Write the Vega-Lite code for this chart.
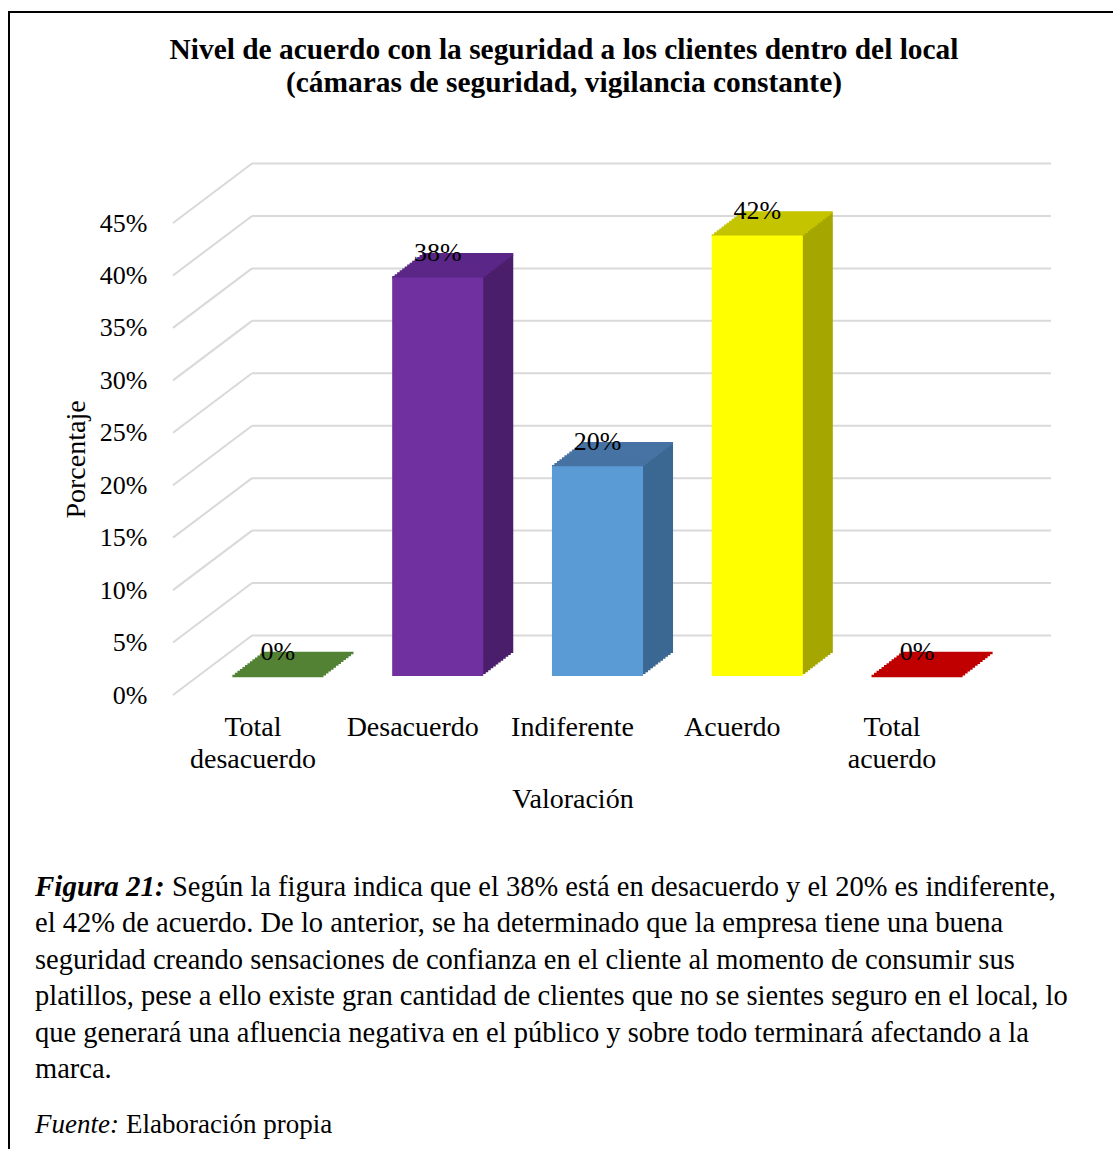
{
 "$schema": "https://vega.github.io/schema/vega-lite/v6.json",
 "width": 1106,
 "height": 1139,
 "autosize": "none",
 "padding": {"left": 9, "top": 12, "right": -2, "bottom": -2},
 "background": "white",
 "config": {"view": {"stroke": "black", "strokeWidth": 2}, "font": "Liberation Serif"},
 "title": {
  "text": ["Nivel de acuerdo con la seguridad a los clientes dentro del local", "(cámaras de seguridad, vigilancia constante)"],
  "fontSize": 29.4, "fontWeight": "bold", "color": "black", "lineHeight": 33,
  "anchor": "middle", "frame": "group", "baseline": "top", "offset": -86, "dx": 2
 },
 "datasets": {
  "bars": [
   {"cat": "Total desacuerdo", "v": 0},
   {"cat": "Desacuerdo", "v": 0.38},
   {"cat": "Indiferente", "v": 0.20},
   {"cat": "Acuerdo", "v": 0.42},
   {"cat": "Total acuerdo", "v": 0}
  ],
  "grid": [{"t": 0}, {"t": 0.05}, {"t": 0.10}, {"t": 0.15}, {"t": 0.20}, {"t": 0.25}, {"t": 0.30}, {"t": 0.35}, {"t": 0.40}, {"t": 0.45}],
  "caption": [
   {"row": 1, "kind": "fig", "text": "Figura 21:"},
   {"row": 1, "kind": "body1", "text": "Según la figura indica que el 38% está en desacuerdo y el 20% es indiferente,"},
   {"row": 2, "kind": "body", "text": "el 42% de acuerdo. De lo anterior, se ha determinado que la empresa tiene una buena"},
   {"row": 3, "kind": "body", "text": "seguridad creando sensaciones de confianza en el cliente al momento de consumir sus"},
   {"row": 4, "kind": "body", "text": "platillos, pese a ello existe gran cantidad de clientes que no se sientes seguro en el local, lo"},
   {"row": 5, "kind": "body", "text": "que generará una afluencia negativa en el público y sobre todo terminará afectando a la"},
   {"row": 6, "kind": "body", "text": "marca."},
   {"row": 7, "kind": "src", "text": "Fuente:"},
   {"row": 7, "kind": "src2", "text": "Elaboración propia"}
  ]
 },
 "layer": [
  {
   "data": {"name": "bars"},
   "layer": [
    {"data": {"name": "grid"}, "mark": {"type": "rule", "color": "#D9D9D9", "strokeWidth": 2, "xOffset": -0.95, "x2Offset": 158.95, "yOffset": -59.5},
     "encoding": {"x": {"datum": "Total desacuerdo", "type": "nominal"}, "x2": {"datum": "Total acuerdo"}, "y": {"field": "t", "type": "quantitative"}}},
    {"data": {"name": "grid"}, "mark": {"type": "rule", "color": "#D9D9D9", "strokeWidth": 2, "xOffset": -79.95, "x2Offset": -0.95, "y2Offset": -59.5},
     "encoding": {"x": {"datum": "Total desacuerdo", "type": "nominal"}, "x2": {"datum": "Total desacuerdo"}, "y": {"field": "t", "type": "quantitative"}, "y2": {"field": "t"}}},
    {"mark": {"type": "bar", "xOffset": 27.5, "yOffset": -20.92, "y2Offset": -20.92}, "encoding": {"x": {"field": "cat", "type": "nominal"}, "y": {"field": "v", "type": "quantitative"}, "y2": {"datum": 0}, "fill": {"field": "cat", "type": "nominal", "legend": null, "scale": {"domain": ["Total desacuerdo", "Desacuerdo", "Indiferente", "Acuerdo", "Total acuerdo"], "range": ["#3E6627", "#4A1E6B", "#3B6892", "#A6A600", "#8F0000"]}}}},
    {"mark": {"type": "bar", "xOffset": 30, "yOffset": -22.83, "y2Offset": -22.83}, "encoding": {"x": {"field": "cat", "type": "nominal"}, "y": {"field": "v", "type": "quantitative"}, "y2": {"datum": 0}, "fill": {"field": "cat", "type": "nominal", "legend": null}}},
    {"mark": {"type": "bar", "xOffset": 32.5, "yOffset": -24.75, "y2Offset": -24.75}, "encoding": {"x": {"field": "cat", "type": "nominal"}, "y": {"field": "v", "type": "quantitative"}, "y2": {"datum": 0}, "fill": {"field": "cat", "type": "nominal", "legend": null}}},
    {"mark": {"type": "bar", "xOffset": 35, "yOffset": -26.67, "y2Offset": -26.67}, "encoding": {"x": {"field": "cat", "type": "nominal"}, "y": {"field": "v", "type": "quantitative"}, "y2": {"datum": 0}, "fill": {"field": "cat", "type": "nominal", "legend": null}}},
    {"mark": {"type": "bar", "xOffset": 37.5, "yOffset": -28.58, "y2Offset": -28.58}, "encoding": {"x": {"field": "cat", "type": "nominal"}, "y": {"field": "v", "type": "quantitative"}, "y2": {"datum": 0}, "fill": {"field": "cat", "type": "nominal", "legend": null}}},
    {"mark": {"type": "bar", "xOffset": 40, "yOffset": -30.5, "y2Offset": -30.5}, "encoding": {"x": {"field": "cat", "type": "nominal"}, "y": {"field": "v", "type": "quantitative"}, "y2": {"datum": 0}, "fill": {"field": "cat", "type": "nominal", "legend": null}}},
    {"mark": {"type": "bar", "xOffset": 42.5, "yOffset": -32.42, "y2Offset": -32.42}, "encoding": {"x": {"field": "cat", "type": "nominal"}, "y": {"field": "v", "type": "quantitative"}, "y2": {"datum": 0}, "fill": {"field": "cat", "type": "nominal", "legend": null}}},
    {"mark": {"type": "bar", "xOffset": 45, "yOffset": -34.33, "y2Offset": -34.33}, "encoding": {"x": {"field": "cat", "type": "nominal"}, "y": {"field": "v", "type": "quantitative"}, "y2": {"datum": 0}, "fill": {"field": "cat", "type": "nominal", "legend": null}}},
    {"mark": {"type": "bar", "xOffset": 47.5, "yOffset": -36.25, "y2Offset": -36.25}, "encoding": {"x": {"field": "cat", "type": "nominal"}, "y": {"field": "v", "type": "quantitative"}, "y2": {"datum": 0}, "fill": {"field": "cat", "type": "nominal", "legend": null}}},
    {"mark": {"type": "bar", "xOffset": 50, "yOffset": -38.17, "y2Offset": -38.17}, "encoding": {"x": {"field": "cat", "type": "nominal"}, "y": {"field": "v", "type": "quantitative"}, "y2": {"datum": 0}, "fill": {"field": "cat", "type": "nominal", "legend": null}}},
    {"mark": {"type": "bar", "xOffset": 52.5, "yOffset": -40.08, "y2Offset": -40.08}, "encoding": {"x": {"field": "cat", "type": "nominal"}, "y": {"field": "v", "type": "quantitative"}, "y2": {"datum": 0}, "fill": {"field": "cat", "type": "nominal", "legend": null}}},
    {"mark": {"type": "bar", "xOffset": 55, "yOffset": -42, "y2Offset": -42}, "encoding": {"x": {"field": "cat", "type": "nominal"}, "y": {"field": "v", "type": "quantitative"}, "y2": {"datum": 0}, "fill": {"field": "cat", "type": "nominal", "legend": null}}},
    {"mark": {"type": "bar", "xOffset": 25, "yOffset": -19, "y2Offset": -19, "strokeWidth": 2.6, "fillOpacity": 0}, "encoding": {"x": {"field": "cat", "type": "nominal"}, "y": {"field": "v", "type": "quantitative"}, "y2": {"field": "v"}, "stroke": {"field": "cat", "type": "nominal", "legend": null, "scale": {"domain": ["Total desacuerdo", "Desacuerdo", "Indiferente", "Acuerdo", "Total acuerdo"], "range": ["#548235", "#5B2787", "#4673A3", "#C4C400", "#C00000"]}}}},
    {"mark": {"type": "bar", "xOffset": 27.5, "yOffset": -20.92, "y2Offset": -20.92, "strokeWidth": 2.6, "fillOpacity": 0}, "encoding": {"x": {"field": "cat", "type": "nominal"}, "y": {"field": "v", "type": "quantitative"}, "y2": {"field": "v"}, "stroke": {"field": "cat", "type": "nominal", "legend": null}}},
    {"mark": {"type": "bar", "xOffset": 30, "yOffset": -22.83, "y2Offset": -22.83, "strokeWidth": 2.6, "fillOpacity": 0}, "encoding": {"x": {"field": "cat", "type": "nominal"}, "y": {"field": "v", "type": "quantitative"}, "y2": {"field": "v"}, "stroke": {"field": "cat", "type": "nominal", "legend": null}}},
    {"mark": {"type": "bar", "xOffset": 32.5, "yOffset": -24.75, "y2Offset": -24.75, "strokeWidth": 2.6, "fillOpacity": 0}, "encoding": {"x": {"field": "cat", "type": "nominal"}, "y": {"field": "v", "type": "quantitative"}, "y2": {"field": "v"}, "stroke": {"field": "cat", "type": "nominal", "legend": null}}},
    {"mark": {"type": "bar", "xOffset": 35, "yOffset": -26.67, "y2Offset": -26.67, "strokeWidth": 2.6, "fillOpacity": 0}, "encoding": {"x": {"field": "cat", "type": "nominal"}, "y": {"field": "v", "type": "quantitative"}, "y2": {"field": "v"}, "stroke": {"field": "cat", "type": "nominal", "legend": null}}},
    {"mark": {"type": "bar", "xOffset": 37.5, "yOffset": -28.58, "y2Offset": -28.58, "strokeWidth": 2.6, "fillOpacity": 0}, "encoding": {"x": {"field": "cat", "type": "nominal"}, "y": {"field": "v", "type": "quantitative"}, "y2": {"field": "v"}, "stroke": {"field": "cat", "type": "nominal", "legend": null}}},
    {"mark": {"type": "bar", "xOffset": 40, "yOffset": -30.5, "y2Offset": -30.5, "strokeWidth": 2.6, "fillOpacity": 0}, "encoding": {"x": {"field": "cat", "type": "nominal"}, "y": {"field": "v", "type": "quantitative"}, "y2": {"field": "v"}, "stroke": {"field": "cat", "type": "nominal", "legend": null}}},
    {"mark": {"type": "bar", "xOffset": 42.5, "yOffset": -32.42, "y2Offset": -32.42, "strokeWidth": 2.6, "fillOpacity": 0}, "encoding": {"x": {"field": "cat", "type": "nominal"}, "y": {"field": "v", "type": "quantitative"}, "y2": {"field": "v"}, "stroke": {"field": "cat", "type": "nominal", "legend": null}}},
    {"mark": {"type": "bar", "xOffset": 45, "yOffset": -34.33, "y2Offset": -34.33, "strokeWidth": 2.6, "fillOpacity": 0}, "encoding": {"x": {"field": "cat", "type": "nominal"}, "y": {"field": "v", "type": "quantitative"}, "y2": {"field": "v"}, "stroke": {"field": "cat", "type": "nominal", "legend": null}}},
    {"mark": {"type": "bar", "xOffset": 47.5, "yOffset": -36.25, "y2Offset": -36.25, "strokeWidth": 2.6, "fillOpacity": 0}, "encoding": {"x": {"field": "cat", "type": "nominal"}, "y": {"field": "v", "type": "quantitative"}, "y2": {"field": "v"}, "stroke": {"field": "cat", "type": "nominal", "legend": null}}},
    {"mark": {"type": "bar", "xOffset": 50, "yOffset": -38.17, "y2Offset": -38.17, "strokeWidth": 2.6, "fillOpacity": 0}, "encoding": {"x": {"field": "cat", "type": "nominal"}, "y": {"field": "v", "type": "quantitative"}, "y2": {"field": "v"}, "stroke": {"field": "cat", "type": "nominal", "legend": null}}},
    {"mark": {"type": "bar", "xOffset": 52.5, "yOffset": -40.08, "y2Offset": -40.08, "strokeWidth": 2.6, "fillOpacity": 0}, "encoding": {"x": {"field": "cat", "type": "nominal"}, "y": {"field": "v", "type": "quantitative"}, "y2": {"field": "v"}, "stroke": {"field": "cat", "type": "nominal", "legend": null}}},
    {"mark": {"type": "bar", "xOffset": 55, "yOffset": -42, "y2Offset": -42, "strokeWidth": 2.6, "fillOpacity": 0}, "encoding": {"x": {"field": "cat", "type": "nominal"}, "y": {"field": "v", "type": "quantitative"}, "y2": {"field": "v"}, "stroke": {"field": "cat", "type": "nominal", "legend": null}}},
    {"mark": {"type": "bar", "xOffset": 25, "yOffset": -19, "y2Offset": -19},
     "encoding": {
      "x": {"field": "cat", "type": "nominal",
       "scale": {"domain": ["Total desacuerdo", "Desacuerdo", "Indiferente", "Acuerdo", "Total acuerdo"], "range": [198.4, 928.6], "paddingInner": 0.43, "paddingOuter": 0},
       "axis": {"title": "Valoración", "labelAngle": 0, "labelAlign": "center", "domain": false, "ticks": false, "grid": false, "labelPadding": 0, "offset": -424, "labelFontSize": 28, "labelLineHeight": 32, "labelColor": "black", "labelOverlap": false, "labelLimit": 300,
        "labelExpr": "datum.value == 'Total desacuerdo' ? ['Total', 'desacuerdo'] : datum.value == 'Total acuerdo' ? ['Total', 'acuerdo'] : datum.label",
        "titleFontSize": 28, "titleFontWeight": "normal", "titleColor": "black", "titlePadding": 12}},
      "y": {"field": "v", "type": "quantitative",
       "scale": {"domain": [0, 0.45], "range": [683, 211], "nice": false, "zero": true},
       "axis": {"title": "Porcentaje", "values": [0, 0.05, 0.1, 0.15, 0.2, 0.25, 0.3, 0.35, 0.4, 0.45], "format": ".0%", "grid": false, "domain": false, "ticks": false, "labelPadding": 0, "offset": -138, "labelFontSize": 26, "labelColor": "black",
        "titleFontSize": 28, "titleFontWeight": "normal", "titleColor": "black", "titlePadding": 9}},
      "y2": {"datum": 0},
      "color": {"field": "cat", "type": "nominal", "legend": null, "scale": {"domain": ["Total desacuerdo", "Desacuerdo", "Indiferente", "Acuerdo", "Total acuerdo"], "range": ["#70AD47", "#7030A0", "#5B9BD5", "#FFFF00", "#FF0000"]}}
     }},
    {"mark": {"type": "text", "xOffset": 25, "yOffset": -19, "dy": -16, "baseline": "alphabetic", "fontSize": 26, "color": "black"},
     "encoding": {"x": {"field": "cat", "type": "nominal"}, "y": {"field": "v", "type": "quantitative"}, "text": {"field": "v", "type": "quantitative", "format": ".0%"}}}
   ]
  },
  {
   "data": {"name": "caption"},
   "encoding": {
    "x": {"datum": 0, "type": "quantitative", "scale": {"domain": [0, 1], "range": [26, 1081]}, "axis": null},
    "y": {"field": "row", "type": "quantitative", "scale": {"domain": [1, 6], "range": [875, 1057]}, "axis": null},
    "text": {"field": "text", "type": "nominal"}
   },
   "layer": [
    {"transform": [{"filter": "datum.kind == 'fig'"}], "mark": {"type": "text", "align": "left", "baseline": "middle", "fontSize": 29, "fontWeight": "bold", "fontStyle": "italic", "color": "black"}},
    {"transform": [{"filter": "datum.kind == 'body1'"}], "mark": {"type": "text", "align": "left", "baseline": "middle", "fontSize": 28.5, "dx": 137, "color": "black"}},
    {"transform": [{"filter": "datum.kind == 'body'"}], "mark": {"type": "text", "align": "left", "baseline": "middle", "fontSize": 28.5, "color": "black"}},
    {"transform": [{"filter": "datum.kind == 'src'"}], "mark": {"type": "text", "align": "left", "baseline": "middle", "fontSize": 27, "fontStyle": "italic", "yOffset": 20, "color": "black"}},
    {"transform": [{"filter": "datum.kind == 'src2'"}], "mark": {"type": "text", "align": "left", "baseline": "middle", "fontSize": 27, "dx": 91, "yOffset": 20, "color": "black"}}
   ]
  }
 ],
 "resolve": {"scale": {"x": "independent", "y": "independent"}}
}
